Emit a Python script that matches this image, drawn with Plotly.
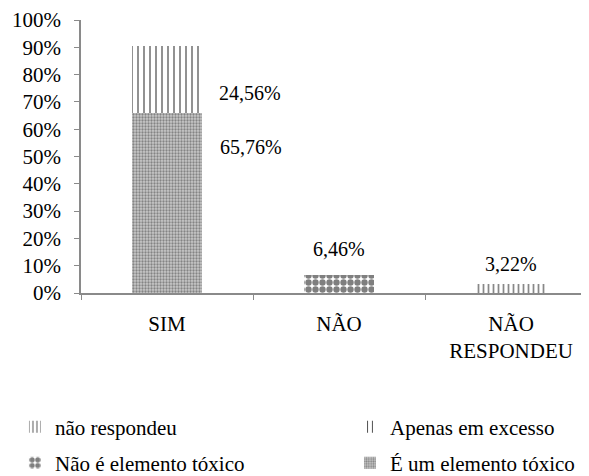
import plotly.graph_objects as go

categories = ["SIM", "NÃO", "NÃO<br>RESPONDEU"]
toxico = [65.76, 0, 0]          # É um elemento tóxico
excesso = [24.56, 0, 0]         # Apenas em excesso
nao_toxico = [0, 6.46, 0]       # Não é elemento tóxico
nao_resp = [0, 0, 3.22]         # não respondeu
yticks = list(range(0, 101, 10))
yticklabels = [f"{v}%" for v in yticks]
label_text = ["65,76%", "24,56%", "6,46%", "3,22%"]

FONT = "Liberation Serif, Times New Roman, serif"
AX = "#8a8a8a"

fig = go.Figure()
fig.add_trace(go.Bar(
    x=categories, y=toxico, name="É um elemento tóxico", legend="legend4",
    width=0.41,
    marker=dict(color="#b5b5b5", line=dict(width=0),
                pattern=dict(shape=".", fgcolor="#404040", bgcolor="#c8c8c8",
                             size=3, solidity=0.45)),
))
fig.add_trace(go.Bar(
    x=categories, y=excesso, name="Apenas em excesso", legend="legend2",
    width=0.41,
    marker=dict(color="white", line=dict(width=0),
                pattern=dict(shape="|", fgcolor="#1a1a1a", bgcolor="white",
                             size=6, solidity=0.2, fgopacity=0.8)),
))
fig.add_trace(go.Bar(
    x=categories, y=nao_toxico, name="Não é elemento tóxico", legend="legend3",
    width=0.41,
    marker=dict(color="black", line=dict(width=0),
                pattern=dict(shape=".", fgcolor="black", bgcolor="white",
                             size=7, solidity=0.65)),
))
fig.add_trace(go.Bar(
    x=categories, y=nao_resp, name="não respondeu", legend="legend",
    width=0.41,
    marker=dict(color="white", line=dict(width=0),
                pattern=dict(shape="|", fgcolor="#111111", bgcolor="white",
                             size=5, solidity=0.35)),
))

# data labels
anns = [
    dict(x=categories[0], y=toxico[0], text=label_text[0], xshift=84, yshift=-34),
    dict(x=categories[0], y=toxico[0] + excesso[0], text=label_text[1], xshift=83, yshift=-47),
    dict(x=categories[1], y=nao_toxico[1], text=label_text[2], yshift=26),
    dict(x=categories[2], y=nao_resp[2], text=label_text[3], yshift=20),
]
for a in anns:
    a.update(showarrow=False, font=dict(family=FONT, size=20, color="black"),
             xref="x", yref="y", yanchor="middle")
fig.update_layout(annotations=anns)

def leg(x, y):
    return dict(
        orientation="h", xanchor="left", yanchor="middle", x=x, y=y,
        font=dict(family=FONT, size=21, color="black"),
        bgcolor="rgba(0,0,0,0)", itemclick=False,
    )

lx1 = -0.130
lx2 = 0.5295
ly1 = -0.491
ly2 = -0.623

fig.update_layout(
    width=581, height=468,
    margin=dict(l=73, r=0, t=12, b=183, autoexpand=False),
    paper_bgcolor="white", plot_bgcolor="white",
    barmode="stack",
    showlegend=True,
    legend=leg(lx1, ly1),
    legend2=leg(lx2, ly1),
    legend3=leg(lx1, ly2),
    legend4=leg(lx2, ly2),
    xaxis=dict(
        type="category", range=[-0.5, 2.453], automargin=False,
        showline=True, linecolor=AX, linewidth=1.5,
        ticks="outside", tickson="boundaries", ticklen=5, tickcolor=AX, tickwidth=1.2,
        tickfont=dict(family=FONT, size=21, color="black"),
        ticklabelstandoff=11, showgrid=False, zeroline=False,
    ),
    yaxis=dict(
        range=[0, 100], tickvals=yticks, ticktext=yticklabels, automargin=False,
        showline=True, linecolor=AX, linewidth=1.5,
        ticks="outside", ticklen=5, tickcolor=AX, tickwidth=1.2,
        tickfont=dict(family=FONT, size=21, color="black"),
        ticklabelstandoff=9, showgrid=False, zeroline=False,
    ),
)

fig.write_html("out.html")
